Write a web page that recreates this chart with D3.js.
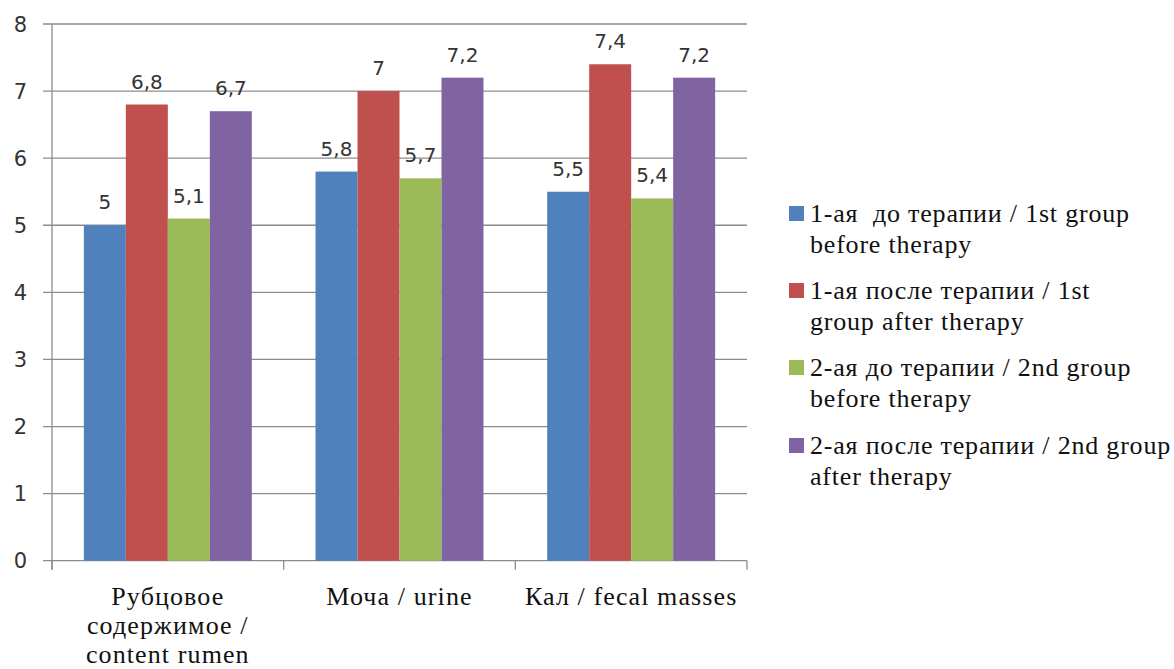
<!DOCTYPE html>
<html><head><meta charset="utf-8">
<script src="https://cdn.jsdelivr.net/npm/d3@7"></script>
<style>body{margin:0;background:#fff}svg{display:block}</style>
</head><body>
<svg id="c" width="1174" height="669"></svg>
<script>
const categories = [["Рубцовое","содержимое /","content rumen"],["Моча / urine"],["Кал / fecal masses"]];
const seriesNames = [["1-ая  до терапии / 1st group","before therapy"],["1-ая после терапии / 1st","group after therapy"],["2-ая до терапии / 2nd group","before therapy"],["2-ая после терапии / 2nd group","after therapy"]];
const s1Before = [5, 5.8, 5.5];
const s1After = [6.8, 7, 7.4];
const s2Before = [5.1, 5.7, 5.4];
const s2After = [6.7, 7.2, 7.2];
const colors = ["#4F81BD","#C0504D","#9BBB59","#8064A2"];
const yTicks = [0,1,2,3,4,5,6,7,8];

const series = [s1Before, s1After, s2Before, s2After];
const svg = d3.select("#c");
const L = 52, R = 747, T = 24, B = 560.7;
const x0 = d3.scaleBand().domain(d3.range(categories.length)).range([L, R]).paddingInner(0.275).paddingOuter(0.1375);
const x1 = d3.scaleBand().domain(d3.range(series.length)).range([0, x0.bandwidth()]);
const y = d3.scaleLinear().domain([0, 8]).range([B, T]);

// gridlines
svg.append("g").selectAll("line").data(yTicks).join("line")
  .attr("x1", L - 9).attr("x2", R).attr("y1", d => y(d)).attr("y2", d => y(d))
  .attr("stroke", "#8c8c8c").attr("stroke-width", 1.3);
// y axis line
svg.append("line").attr("x1", L).attr("x2", L).attr("y1", T).attr("y2", B + 9).attr("stroke", "#8c8c8c").attr("stroke-width", 1.3);
// category boundary ticks
const bounds = [L, ...d3.range(1, categories.length).map(i => (x0(i - 1) + x0.bandwidth() + x0(i)) / 2), R];
svg.append("g").selectAll("line").data(bounds).join("line")
  .attr("x1", d => d).attr("x2", d => d).attr("y1", B).attr("y2", B + 9)
  .attr("stroke", "#8c8c8c").attr("stroke-width", 1.3);

// y tick labels
svg.append("g").selectAll("text").data(yTicks).join("text")
  .attr("x", 27).attr("y", d => y(d)).attr("dy", "0.36em").attr("text-anchor", "end")
  .attr("font-family", "DejaVu Sans").attr("font-size", 21).attr("fill", "#333")
  .text(d => d);

// bars
const g = svg.append("g");
series.forEach((vals, si) => {
  g.append("g").selectAll("rect").data(vals).join("rect")
    .attr("x", (d, i) => x0(i) + x1(si)).attr("width", x1.bandwidth())
    .attr("y", d => y(d)).attr("height", d => y(0) - y(d))
    .attr("fill", colors[si]);
  g.append("g").selectAll("text").data(vals).join("text")
    .attr("x", (d, i) => x0(i) + x1(si) + x1.bandwidth() / 2).attr("y", d => y(d) - 16)
    .attr("text-anchor", "middle").attr("font-family", "DejaVu Sans").attr("font-size", 20).attr("fill", "#333")
    .text(d => String(d).replace(".", ","));
});

// category labels
categories.forEach((lines, i) => {
  const cx = x0(i) + x0.bandwidth() / 2;
  const t = svg.append("text").attr("text-anchor", "middle").attr("font-family", "Liberation Serif").attr("font-size", 26).attr("letter-spacing", 1.1).attr("fill", "#111");
  lines.forEach((ln, k) => t.append("tspan").attr("x", cx).attr("y", 605 + k * 29).text(ln));
});

// legend
const legY = [222, 299, 376, 454];
seriesNames.forEach((lines, i) => {
  svg.append("rect").attr("x", 789).attr("y", legY[i] - 16).attr("width", 15).attr("height", 15).attr("fill", colors[i]);
  const t = svg.append("text").attr("font-family", "Liberation Serif").attr("font-size", 26).attr("letter-spacing", 0.8).attr("fill", "#111");
  lines.forEach((ln, k) => t.append("tspan").attr("x", 810).attr("y", legY[i] + k * 31).attr("xml:space","preserve").text(ln));
});
</script>
</body></html>
